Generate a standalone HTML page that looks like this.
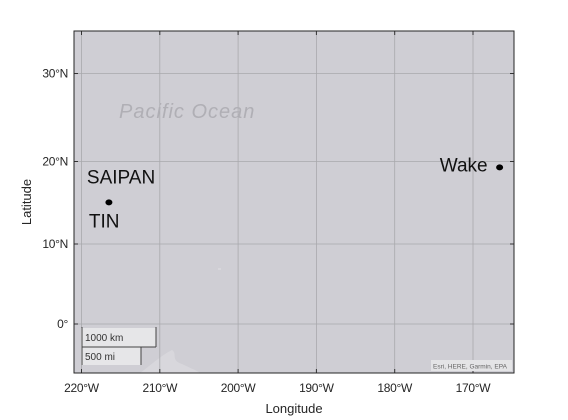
<!DOCTYPE html>
<html><head><meta charset="utf-8"><style>
body{margin:0;background:#fff;}
svg{display:block;font-family:"Liberation Sans",Arial,sans-serif;}
</style></head><body>
<svg width="568" height="420" viewBox="0 0 568 420">
<g id="g"></g>
</svg>
<script>
const lonTicks=[220,210,200,190,180,170];
const lonLabels=["220°W","210°W","200°W","190°W","180°W","170°W"];
const latTicks=[0,10,20,30];
const latLabels=["0°","10°N","20°N","30°N"];
const pointNames=["SAIPAN","Wake"];
const pointLons=[216.5,166.6];
const pointLats=[15.1,19.3];

const L=74,T=31,R=514,B=373;
function xs(lonW){return 81.5+(220-lonW)*7.83;}
function merc(lat){const r=lat*Math.PI/180;return Math.log(Math.tan(Math.PI/4+r/2));}
function ys(lat){return 324-456*merc(lat);}
const NS="http://www.w3.org/2000/svg";
const g=document.getElementById('g');
function mk(t,a,p){const e=document.createElementNS(NS,t);for(const k in a)e.setAttribute(k,a[k]);(p||g).appendChild(e);return e;}

const bg=mk('rect',{x:L,y:T,width:R-L,height:B-T,fill:'#cfced4'});


const land=mk('path',{d:'M140 373 C150 366 160 356 172 350 C178 354 170 360 182 364 C190 368 196 370 200 373 Z M218 268 l3 0 l0 2 l-3 0Z',fill:'#dcdce0',opacity:0.7});



lonTicks.forEach((v,i)=>{const x=xs(v);
 const l=mk('line',{x1:x,y1:T,x2:x,y2:B,stroke:'#a9a9ad','stroke-width':0.8});
 
 
 mk('line',{x1:x,y1:B,x2:x,y2:B-4,stroke:'#333'});mk('line',{x1:x,y1:T,x2:x,y2:T+4,stroke:'#333'});
 const t=mk('text',{x:x,y:392,'text-anchor':'middle','font-size':12,fill:'#262626','letter-spacing':'-0.3'});t.textContent=lonLabels[i];
 
 
});
latTicks.forEach((v,i)=>{const y=ys(v);
 const l=mk('line',{x1:L,y1:y,x2:R,y2:y,stroke:'#a9a9ad','stroke-width':0.8});
 
 
 mk('line',{x1:L,y1:y,x2:L+4,y2:y,stroke:'#333'});mk('line',{x1:R,y1:y,x2:R-4,y2:y,stroke:'#333'});
 const t=mk('text',{x:68,y:y+4,'text-anchor':'end','font-size':12,fill:'#262626','letter-spacing':'-0.3'});t.textContent=latLabels[i];
 
 
});
const fr=mk('rect',{x:L,y:T,width:R-L,height:B-T,fill:'none',stroke:'#262626','stroke-width':1});



const po=mk('text',{x:119,y:118,'font-size':20,'font-style':'italic',fill:'#b0afb5','letter-spacing':'1'});po.textContent='Pacific Ocean';



pointNames.forEach((n,i)=>{const x=xs(pointLons[i]),y=ys(pointLats[i]);
 const c=mk('ellipse',{cx:x,cy:y,rx:3.5,ry:3,fill:'#000'});
 
 
 if(n==='SAIPAN'){
  const t1=mk('text',{x:x-22,y:y-19,'font-size':19,fill:'#111'});t1.textContent='SAIPAN';
  
  
  const t2=mk('text',{x:x-20,y:y+25,'font-size':19,fill:'#111'});t2.textContent='TIN';
  
  
 } else {
  const t=mk('text',{x:x-12,y:y+4,'text-anchor':'end','font-size':19,fill:'#111'});t.textContent=n;
  
  
 }
});

const sb=mk('g',{});


mk('rect',{x:81,y:328,width:75,height:19,fill:'#e6e6e8'},sb);
mk('rect',{x:81,y:347,width:60,height:18,fill:'#e6e6e8'},sb);
mk('line',{x1:82,y1:327,x2:82,y2:365,stroke:'#444'},sb);
mk('line',{x1:82,y1:347,x2:156,y2:347,stroke:'#444'},sb);
mk('line',{x1:156,y1:327,x2:156,y2:347,stroke:'#444'},sb);
mk('line',{x1:141,y1:347,x2:141,y2:365,stroke:'#444'},sb);
const k1=mk('text',{x:85,y:341,'font-size':10,fill:'#333'},sb);k1.textContent='1000 km';
const k2=mk('text',{x:85,y:360,'font-size':10,fill:'#333'},sb);k2.textContent='500 mi';

const ab=mk('rect',{x:431,y:360,width:81,height:11,fill:'#e4e4e6'});


const at=mk('text',{x:433,y:368.5,'font-size':6.5,fill:'#666'});at.textContent='Esri, HERE, Garmin, EPA';



const xt=mk('text',{x:294,y:413,'text-anchor':'middle','font-size':13,fill:'#262626'});xt.textContent='Longitude';


const yt=mk('text',{x:31,y:202,'text-anchor':'middle','font-size':13,fill:'#262626',transform:'rotate(-90 31 202)'});yt.textContent='Latitude';


</script>
</body></html>
